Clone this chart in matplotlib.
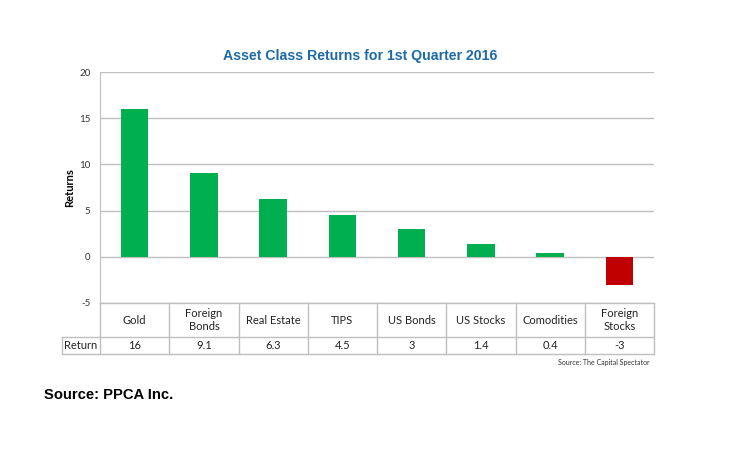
import numpy as np
import matplotlib.pyplot as plt

categories = ["Gold", "Foreign\nBonds", "Real Estate", "TIPS", "US Bonds",
              "US Stocks", "Comodities", "Foreign\nStocks"]
returns = [16, 9.1, 6.3, 4.5, 3, 1.4, 0.4, -3]
return_labels = ["16", "9.1", "6.3", "4.5", "3", "1.4", "0.4", "-3"]
yticks = [-5, 0, 5, 10, 15, 20]

GREEN = "#00B050"
RED = "#C00000"
GRID = "#BFBFBF"
TFONT = "Lato"

W, H = 729, 472
fig = plt.figure(figsize=(W / 100, H / 100), dpi=100)
ax = fig.add_axes([100 / W, 1 - 303 / H, 554 / W, 231 / H])

x = np.arange(len(categories))
colors = [GREEN if v >= 0 else RED for v in returns]
ax.bar(x, returns, width=0.4, color=colors, zorder=3)

ax.set_xlim(-0.5, len(categories) - 0.5)
ax.set_ylim(-5, 20)
ax.set_yticks(yticks)
ax.set_yticklabels([str(t) for t in yticks], fontsize=7, color="#333333",
                   family=TFONT)
ax.tick_params(axis="y", length=0, pad=7)
ax.set_xticks([])
ax.grid(axis="y", color=GRID, linewidth=1, zorder=0)
for s in ["top", "right", "bottom"]:
    ax.spines[s].set_visible(False)
ax.spines["left"].set_color(GRID)
ax.set_ylabel("Returns", fontsize=8, fontweight="bold", labelpad=3,
              family=TFONT)

# title sits a little left of the plot centre in the original
fig.text(360 / W, 1 - 56 / H, "Asset Class Returns for 1st Quarter 2016",
         ha="center", va="center", fontsize=10.2, fontweight="bold",
         color="#1F6BA5", family="Liberation Sans")

# table under the plot, in axes coordinates
tr = ax.transAxes
ph = 231.0
y_top = 0.0
y_mid = -34 / ph
y_bot = -51 / ph
x_lab = -38 / 554
lkw = dict(transform=tr, color=GRID, linewidth=1, clip_on=False)
ax.plot([0, 1], [y_top, y_top], **lkw)
ax.plot([x_lab, 1], [y_mid, y_mid], **lkw)
ax.plot([x_lab, 1], [y_bot, y_bot], **lkw)
ax.plot([x_lab, x_lab], [y_mid, y_bot], **lkw)
n = len(categories)
for k in range(n + 1):
    ax.plot([k / n, k / n], [y_top, y_bot], **lkw)

for k, (c, r) in enumerate(zip(categories, return_labels)):
    cx = (k + 0.5) / n
    ax.text(cx, (y_top + y_mid) / 2, c, transform=tr, ha="center",
            va="center", fontsize=8, linespacing=1.2, color="#222222",
            family=TFONT)
    ax.text(cx, (y_mid + y_bot) / 2, r, transform=tr, ha="center",
            va="center", fontsize=8, color="#222222", family=TFONT)
ax.text((x_lab + 0) / 2, (y_mid + y_bot) / 2, "Return", transform=tr,
        ha="center", va="center", fontsize=8, color="#222222", family=TFONT)

fig.text(650 / W, 1 - 363 / H, "Source: The Capital Spectator",
         ha="right", va="center", fontsize=5, color="#333333", family=TFONT)
fig.text(44 / W, 1 - 395 / H, "Source: PPCA Inc.", ha="left",
         va="center", fontsize=10.6, fontweight="bold", color="black",
         family="Liberation Sans")

fig.savefig("out.png", dpi=100)
